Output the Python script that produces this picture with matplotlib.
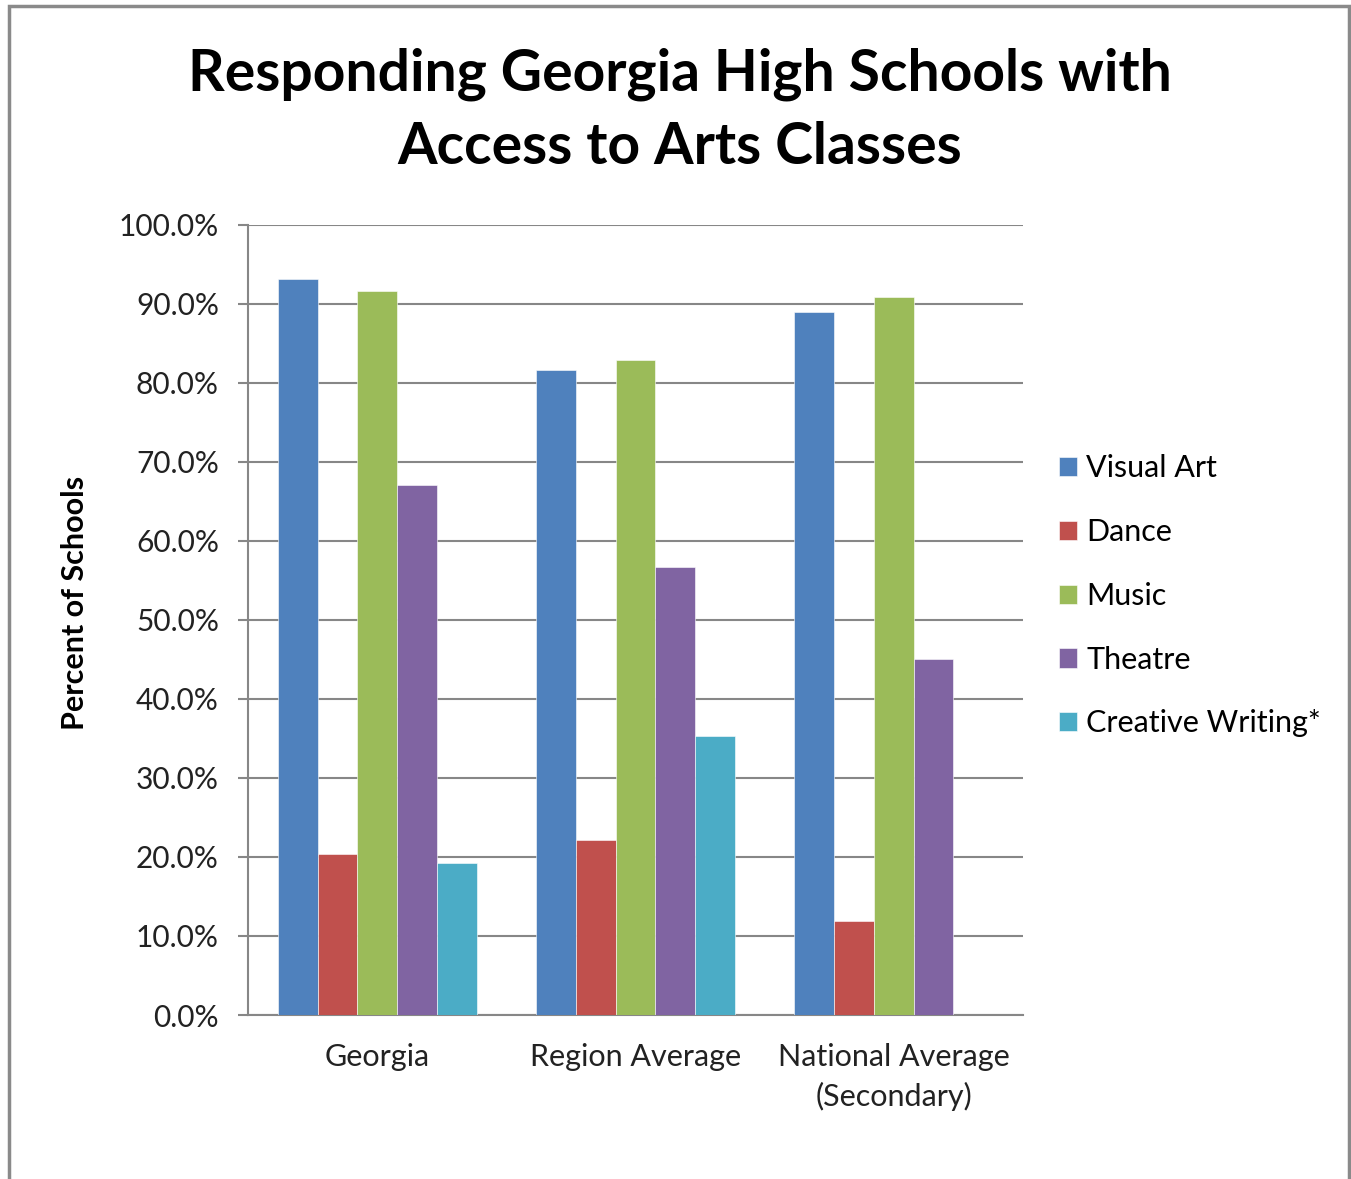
import numpy as np
import matplotlib
matplotlib.use("Agg")
import matplotlib.pyplot as plt
from matplotlib.patches import Rectangle
from matplotlib.ticker import PercentFormatter

groups = ["Georgia", "Region Average", "National Average\n(Secondary)"]
series = ["Visual Art", "Dance", "Music", "Theatre", "Creative Writing*"]
visual_art = [93.2, 81.7, 89.0]
dance = [20.4, 22.1, 11.9]
music = [91.7, 82.9, 90.9]
theatre = [67.1, 56.7, 45.0]
creative_writing = [19.2, 35.3, 0.0]
colors = ["#4f81bd", "#c0504d", "#9bbb59", "#8064a2", "#4bacc6"]

plt.rcParams["font.family"] = ["Lato", "DejaVu Sans"]

fig = plt.figure(figsize=(13.51, 11.79), dpi=100)
ax = fig.add_axes([0.1836, 0.1391, 0.5736, 0.6701])

values = [visual_art, dance, music, theatre, creative_writing]
x = np.arange(len(groups))
w = 1 / 6.5
for i, (name, vals) in enumerate(zip(series, values)):
    ax.bar(x + (i - 2) * w, vals, width=w, color=colors[i], label=name,
           edgecolor="white", linewidth=0.4, zorder=3)

ax.set_xlim(-0.5, 2.5)
ax.set_ylim(0, 100)
ax.set_yticks(np.arange(0, 101, 10))
ax.yaxis.set_major_formatter(PercentFormatter(decimals=1))
ax.yaxis.grid(True, color="#878787", linewidth=1.5, zorder=0)
ax.set_xticks(x)
ax.set_xticklabels(groups)
ax.tick_params(axis="x", length=0, pad=20, labelsize=22, colors="#222222")
for lbl in ax.get_xticklabels():
    lbl.set_linespacing(1.45)
ax.tick_params(axis="y", length=7, width=1.5, color="#878787", pad=14,
               labelsize=21.5, labelcolor="#222222")
for s in ["top", "right"]:
    ax.spines[s].set_visible(False)
for s in ["left", "bottom"]:
    ax.spines[s].set_color("#878787")
    ax.spines[s].set_linewidth(1.5)

fig.text(0.0555, 0.4885, "Percent of Schools", rotation=90, ha="center", va="center",
         fontsize=22, fontweight="bold")
fig.text(0.503, 0.906, "Responding Georgia High Schools with\nAccess to Arts Classes",
         ha="center", va="center", fontsize=41, fontweight="bold", linespacing=1.48)

ax.legend(loc="center left", bbox_to_anchor=(0.7745, 0.4945), bbox_transform=fig.transFigure,
          frameon=False, fontsize=22, handlelength=0.6, handleheight=0.6,
          handletextpad=0.3, labelspacing=1.17, borderaxespad=0)

fig.patches.append(Rectangle((9 / 1351, -0.05), 1340 / 1351, 1.05 - 6 / 1179,
                             transform=fig.transFigure, fill=False,
                             edgecolor="#8a8a8a", linewidth=2.5))

fig.savefig("out.png", dpi=100)
